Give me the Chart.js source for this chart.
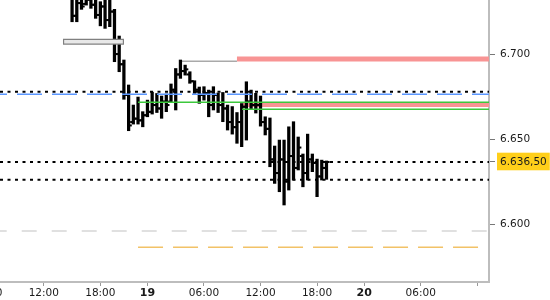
<!DOCTYPE html>
<html><head><meta charset="utf-8">
<script src="https://cdn.jsdelivr.net/npm/chart.js@4.4.1/dist/chart.umd.min.js"></script>
<style>
html,body{margin:0;padding:0;background:#fff;overflow:hidden;width:550px;height:300px}
#wrap{position:absolute;left:-40px;top:0;width:590px;height:300px}
</style>
</head><body>
<div id="wrap"><canvas id="c" width="590" height="300"></canvas></div>
<script>
// 30-minute bar slots (slot 0 = 18th 06:00; evening hour without trading skipped)
const barIndex = [18,19,20,21,22,23,24,25,26,27,28,29,30,31,32,33,34,35,36,37,38,39,40,41,42,43,44,45,46,47,48,49,50,51,52,53,54,55,56,57,58,59,60,61,62,63,64,65,66,67,68,69,70,71,72];
const opens  = [6.7330,6.7225,6.7300,6.7295,6.7320,6.7290,6.7230,6.7280,6.7200,6.7250,6.7000,6.6940,6.6760,6.6600,6.6620,6.6610,6.6640,6.6660,6.6700,6.6680,6.6720,6.6720,6.6790,6.6880,6.6900,6.6880,6.6840,6.6790,6.6760,6.6770,6.6700,6.6760,6.6700,6.6680,6.6600,6.6570,6.6600,6.6690,6.6720,6.6700,6.6700,6.6600,6.6560,6.6380,6.6300,6.6380,6.6250,6.6400,6.6330,6.6400,6.6300,6.6380,6.6360,6.6280,6.6330];
const highs  = [6.7360,6.7350,6.7345,6.7340,6.7345,6.7340,6.7308,6.7330,6.7325,6.7263,6.7106,6.6965,6.6818,6.6700,6.6747,6.6661,6.6729,6.6776,6.6768,6.6753,6.6765,6.6824,6.6915,6.6965,6.6935,6.6896,6.6843,6.6806,6.6808,6.6788,6.6808,6.6771,6.6774,6.6700,6.6691,6.6656,6.6709,6.6837,6.6788,6.6769,6.6753,6.6631,6.6624,6.6459,6.6494,6.6494,6.6572,6.6602,6.6512,6.6412,6.6529,6.6412,6.6382,6.6376,6.6371];
const lows   = [6.7190,6.7190,6.7263,6.7288,6.7269,6.7210,6.7166,6.7151,6.7161,6.6955,6.6896,6.6734,6.6549,6.6588,6.6588,6.6572,6.6631,6.6647,6.6656,6.6622,6.6661,6.6715,6.6671,6.6857,6.6876,6.6828,6.6769,6.6710,6.6729,6.6631,6.6671,6.6656,6.6602,6.6553,6.6529,6.6475,6.6455,6.6494,6.6676,6.6653,6.6576,6.6524,6.6337,6.6239,6.6190,6.6112,6.6200,6.6259,6.6318,6.6219,6.6259,6.6308,6.6161,6.6259,6.6263];
const closes = [6.7225,6.7300,6.7280,6.7320,6.7290,6.7230,6.7280,6.7200,6.7250,6.7000,6.6940,6.6760,6.6580,6.6620,6.6610,6.6640,6.6660,6.6700,6.6680,6.6720,6.6700,6.6790,6.6880,6.6900,6.6910,6.6840,6.6790,6.6760,6.6770,6.6700,6.6760,6.6700,6.6680,6.6600,6.6570,6.6600,6.6690,6.6720,6.6700,6.6700,6.6600,6.6560,6.6380,6.6300,6.6380,6.6250,6.6400,6.6330,6.6450,6.6300,6.6380,6.6360,6.6280,6.6330,6.6365];

const xTickIndex  = [0,12,24,34,46,58,70,80,92,104];
const xTickLabels = ['06:00','12:00','18:00','19','06:00','12:00','18:00','20','06:00',''];
const yTickValues = [6.600, 6.650, 6.700];
const lastPrice = 6.6365;
const xMin = 2.7, xMax = 106.5;
const yMin = 6.5659, yMax = 6.7318;

// horizontal levels: value, from slot, to slot
const pinkTop     = {v: 6.6971, from: 53.0, to: xMax};
const grayTop     = {v: 6.6957, from: 41.1, to: 53.0};
const dotUpper    = {v: 6.6778, from: xMin, to: xMax};
const blueLevel   = {v: 6.6763, from: xMin, to: xMax};
const greenUpper  = {v: 6.6716, from: 32.0, to: xMax};
const pinkLower   = {v: 6.6700, from: 54.3, to: xMax};
const greenLower  = {v: 6.6675, from: 54.1, to: xMax};
const dotLast     = {v: 6.6365, from: xMin, to: xMax};
const dotLower    = {v: 6.6261, from: xMin, to: xMax};
const grayLevel   = {v: 6.5959, from: xMin, to: xMax};
const orangeLevel = {v: 6.5863, from: 32.0, to: 104.2};
const boxLow = 6.7057, boxHigh = 6.7088, boxFrom = 16.07, boxTo = 29.02;

function seg(l){ return [{x:l.from,y:l.v},{x:l.to,y:l.v}]; }
function lineDs(l, color, width, dash, offset, order){
  return {type:'line', data:seg(l), borderColor:color, borderWidth:width, borderDash:dash||[], borderDashOffset:offset||0,
          pointRadius:0, fill:false, order:order, tension:0};
}

const FONT = "'DejaVu Sans', Verdana, sans-serif";
const boxMid = (boxLow + boxHigh) / 2;

const datasets = [
  {type:'bar', data: barIndex.map((x,i)=>({x:x, y:[lows[i], highs[i]]})), backgroundColor:'#000', borderWidth:0,
   barThickness:2.6, grouped:false, order:2},
  {type:'line', showLine:false, data: barIndex.map((x,i)=>({x:x-0.42, y:opens[i]})), pointStyle:'line', pointRadius:1.2,
   borderColor:'#000', borderWidth:2, order:2},
  {type:'line', showLine:false, data: barIndex.map((x,i)=>({x:x+0.42, y:closes[i]})), pointStyle:'line', pointRadius:1.2,
   borderColor:'#000', borderWidth:2, order:2},
  lineDs(pinkTop, 'rgb(248,148,148)', 5, null, 0, 5),
  lineDs(grayTop, '#a9a9a9', 1.5, null, 0, 5),
  lineDs(pinkLower, 'rgb(248,148,148)', 4, null, 0, 5),
  lineDs(dotUpper, '#000', 2, [3,4.5], 0, 1),
  lineDs(blueLevel, 'rgb(90,150,255)', 1.5, [25,10], 18, 1),
  lineDs(greenUpper, 'rgb(60,200,60)', 1.5, null, 0, 1),
  lineDs(greenLower, 'rgb(60,200,60)', 1.5, null, 0, 1),
  lineDs(dotLast, '#000', 2, [3,4.5], 0, 1),
  lineDs(dotLower, '#000', 2, [3,4.5], 0, 1),
  lineDs(grayLevel, '#d6d6d6', 1.5, [15,15], 8.3, 6),
  lineDs(orangeLevel, 'rgb(242,194,103)', 1.5, [25,10], 0, 6),
  // gray box (outline + light fill)
  {type:'line', data:[{x:boxFrom,y:boxMid},{x:boxTo,y:boxMid}], borderColor:'#808080', borderWidth:6, pointRadius:0, order:1},
  {type:'line', data:[{x:boxFrom+0.25,y:boxMid},{x:boxTo-0.25,y:boxMid}], borderColor:'#e8e8e8', borderWidth:3.6, pointRadius:0, order:0}
];

function noPad(s){ s.paddingTop = 0; s.paddingBottom = 0; s.paddingLeft = 0; s.paddingRight = 0; }

new Chart(document.getElementById('c'), {
  type:'bar',
  data:{datasets},
  options:{
    responsive:false, animation:false, events:[],
    layout:{autoPadding:false, padding:{left:40, top:0, right:0, bottom:0}},
    plugins:{legend:{display:false}, tooltip:{enabled:false}},
    scales:{
      x:{type:'linear', position:'bottom', min:xMin, max:xMax, bounds:'data', offset:false,
         grid:{display:true, drawOnChartArea:false, drawTicks:true, tickLength:4, color:'#999', offset:false},
         border:{display:true, color:'#bdbdbd', width:2},
         afterBuildTicks:(s)=>{ s.ticks = xTickIndex.map(v=>({value:v})); },
         afterFit:(s)=>{ s.height = 18; noPad(s); },
         ticks:{autoSkip:false, maxRotation:0, padding:1, color:'#1a1a1a',
           callback:(v,i)=>xTickLabels[i],
           font:(ctx)=>{ const l = xTickLabels[ctx.index]; return (l==='19'||l==='20') ? {family:FONT, size:11, weight:'bold'} : {family:FONT, size:10.5}; }}
      },
      y:{type:'linear', position:'right', min:yMin, max:yMax, bounds:'data',
         grid:{display:true, drawOnChartArea:false, drawTicks:true, tickLength:6, color:'#777'},
         border:{display:true, color:'#bdbdbd', width:2},
         afterBuildTicks:(s)=>{ s.ticks = yTickValues.concat([lastPrice]).sort((a,b)=>a-b).map(v=>({value:v})); },
         afterFit:(s)=>{ s.width = 61; noPad(s); },
         ticks:{autoSkip:false, padding:5, color:'#1a1a1a', font:{family:FONT, size:10.5},
           callback:(v)=> Math.abs(v-lastPrice)<1e-9 ? '6.636,50' : v.toFixed(3),
           showLabelBackdrop:(ctx)=> !!(ctx.tick && Math.abs(ctx.tick.value-lastPrice)<1e-9),
           backdropColor:'#ffcf1a',
           backdropPadding:{left:3,right:3,top:3,bottom:2}}
      }
    }
  }
});
</script>
</body></html>
